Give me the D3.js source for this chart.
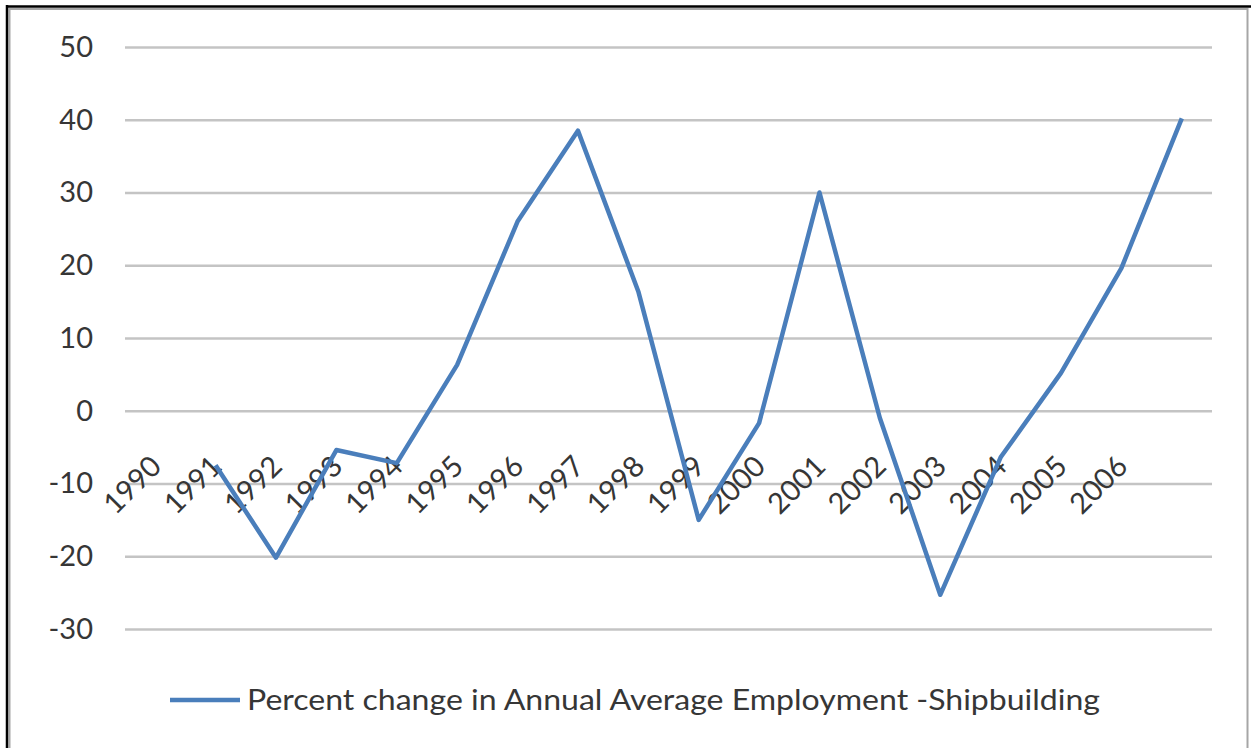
<!DOCTYPE html>
<html>
<head>
<meta charset="utf-8">
<script src="https://cdn.jsdelivr.net/npm/d3@7"></script>
<style>
  html, body { margin: 0; padding: 0; background: #fff; }
  svg { display: block; }
  text { font-family: Lato, "Open Sans", sans-serif; fill: #363636; }
</style>
</head>
<body>
<svg id="chart" width="1251" height="748"></svg>
<script>
// ---- data ----
const years = [1990, 1991, 1992, 1993, 1994, 1995, 1996, 1997, 1998, 1999, 2000, 2001, 2002, 2003, 2004, 2005, 2006, 2007];
const yearLabels = ["1990", "1991", "1992", "1993", "1994", "1995", "1996", "1997", "1998", "1999", "2000", "2001", "2002", "2003", "2004", "2005", "2006", ""];
const pctChange = [null, -7.5, -20.2, -5.4, -7.2, 6.3, 26.0, 38.5, 16.4, -15.0, -1.7, 30.0, -1.0, -25.3, -6.4, 5.2, 19.6, 40.2];
const yTicks = [-30, -20, -10, 0, 10, 20, 30, 40, 50];
const seriesName = "Percent change in Annual Average Employment -Shipbuilding";

// ---- layout ----
const svg = d3.select("#chart");
const W = 1251, H = 748;
const plot = { left: 125, right: 1212, top: 47, bottom: 629 };

// frame
svg.append("rect").attr("x", 9.5).attr("y", 9).attr("width", 1238).attr("height", 760)
  .attr("fill", "none").attr("stroke", "#a6a6a6").attr("stroke-width", 2);
svg.append("line").attr("x1", 7).attr("x2", 7).attr("y1", 5).attr("y2", H)
  .attr("stroke", "#000").attr("stroke-width", 2.5);
svg.append("line").attr("x1", 6).attr("x2", 1251).attr("y1", 6.5).attr("y2", 6.5)
  .attr("stroke", "#000").attr("stroke-width", 2.5);

const x = d3.scalePoint().domain(years).range([plot.left, plot.right]).padding(0.5);
const y = d3.scaleLinear().domain([-30, 50]).range([plot.bottom, plot.top]);

// gridlines + y labels
const yAxis = d3.axisLeft(y).tickValues(yTicks).tickSize(-(plot.right - plot.left)).tickPadding(32).tickFormat(d => String(d));
const gy = svg.append("g").attr("transform", `translate(${plot.left},0)`).call(yAxis);
gy.select(".domain").remove();
gy.selectAll(".tick line").attr("stroke", "#c4c4c4").attr("stroke-width", 2.5);
gy.selectAll(".tick text").attr("font-size", 29).attr("fill", "#363636")
  .attr("font-family", "Lato, 'Open Sans', sans-serif");

// category labels (rotated)
const labelIdx = d3.range(years.length);
svg.append("g").selectAll("text").data(labelIdx).join("text")
  .attr("transform", i => `translate(${x(years[i]) - 23},${y(0) + 74}) rotate(-45)`)
  .attr("text-anchor", "middle")
  .attr("dy", "0.35em")
  .attr("font-size", 29)
  .text(i => yearLabels[i]);

// line
const pts = years.map((yr, i) => ({ yr, v: pctChange[i] }));
const line = d3.line().defined(d => d.v !== null).x(d => x(d.yr)).y(d => y(d.v));
svg.append("path").datum(pts).attr("d", line)
  .attr("fill", "none").attr("stroke", "#4a7ebb").attr("stroke-width", 4.5)
  .attr("stroke-linejoin", "round").attr("stroke-linecap", "butt");

// legend
const lg = svg.append("g").attr("transform", "translate(170,700)");
lg.append("line").attr("x1", 0).attr("x2", 70).attr("y1", 0).attr("y2", 0)
  .attr("stroke", "#4a7ebb").attr("stroke-width", 4.5);
lg.append("text").attr("x", 77).attr("y", 10).attr("font-size", 29)
  .attr("textLength", 853).attr("lengthAdjust", "spacingAndGlyphs")
  .text(seriesName);
</script>
</body>
</html>
